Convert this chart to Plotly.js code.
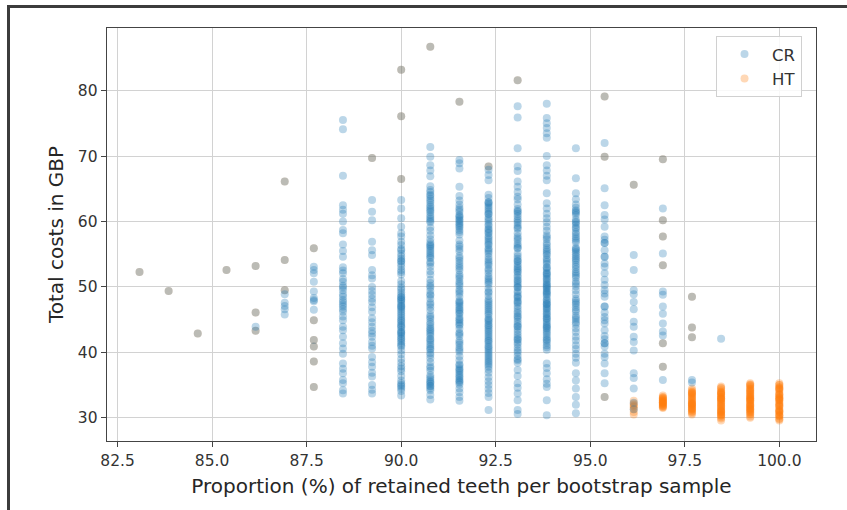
<!DOCTYPE html>
<html>
<head>
<meta charset="utf-8">
<script src="https://cdn.plot.ly/plotly-3.0.1.min.js"></script>
<style>
html, body { margin: 0; padding: 0; overflow: hidden; background: #fff; width: 847px; height: 510px; }
#frame { position: absolute; left: 7px; top: 5px; width: 900px; height: 600px; border: 3px solid #3c3c3c; }
#chart { position: absolute; left: 0; top: 0; width: 847px; height: 510px; }
</style>
</head>
<body>
<div id="frame"></div>
<div id="chart"></div>
<script>
// x positions: proportion (%) of retained teeth per bootstrap sample
const proportions = [83.08, 83.85, 84.62, 85.38, 86.15, 86.92, 87.69, 88.46, 89.23, 90.00, 90.77, 91.54,
                     92.31, 93.08, 93.85, 94.62, 95.38, 96.15, 96.92, 97.69, 98.46, 99.23, 100.00];

// CR total costs (GBP), one array per proportion column
const cr_8308 = [52.3];
const cr_8385 = [49.4];
const cr_8462 = [42.9];
const cr_8538 = [52.6];
const cr_8615 = [53.2, 46.1, 43.3, 43.9];
const cr_8692 = [66.1, 54.1, 49.5, 48.9, 47.6, 47.1, 46.6, 45.8];
const cr_8769 = [55.9, 53.1, 52.1, 50.8, 49.3, 48.3, 47.8, 46.5, 44.9, 41.9, 40.9, 38.6, 34.7, 48.0, 52.6];
const cr_8846 = [75.5, 74.1, 67.0, 62.5, 61.8, 61.2, 60.0, 58.7, 58.2, 56.5, 54.6, 53.0, 52.1, 51.2, 50.8, 49.5,
                 48.9, 48.5, 47.7, 47.3, 47.0, 46.2, 44.9, 43.9, 42.4, 41.4, 39.8, 38.3, 36.8, 35.3, 34.2, 33.7,
                 52.5, 49.9, 48.0, 46.6, 45.5, 43.4, 40.6, 37.5, 35.8, 55.5, 50.2];
const cr_8923 = [69.7, 63.3, 61.5, 60.2, 56.9, 54.9, 52.6, 51.3, 50.0, 48.8, 47.7, 46.2, 45.2, 43.9, 42.9, 42.4,
                 41.6, 40.6, 39.3, 37.8, 36.3, 35.0, 33.7, 55.6, 51.8, 49.4, 48.2, 46.9, 44.6, 43.3, 41.0, 38.5,
                 36.9, 34.3];
const cr_9000 = [83.2, 76.1, 66.5, 63.3, 62.0, 60.5, 59.2, 58.2, 57.7, 56.9, 56.4, 55.6, 55.1, 54.3, 53.9, 53.1,
                 52.6, 51.9, 50.4, 49.9, 49.2, 48.8, 48.1, 47.7, 47.1, 46.5, 45.9, 45.6, 44.8, 44.2, 43.8, 43.1,
                 42.5, 42.2, 41.4, 40.9, 40.3, 39.7, 39.0, 38.4, 37.9, 37.1, 36.4, 35.7, 35.3, 34.5, 34.1, 33.4,
                 48.5, 44.5, 42.8, 46.8, 49.6, 48.4, 47.4, 46.2, 45.3, 44.0, 43.4, 42.0, 41.1, 55.8, 54.7, 53.5,
                 52.3, 50.9, 48.0, 45.0, 43.0, 41.7, 54.0, 47.0, 37.5, 35.0, 34.8];
const cr_9077 = [86.7, 71.4, 69.9, 68.6, 67.8, 66.9, 65.4, 64.8, 64.1, 63.5, 62.9, 62.2, 61.7, 61.0, 60.4, 59.9,
                 59.1, 58.6, 57.9, 57.3, 56.8, 56.1, 55.5, 54.9, 54.4, 53.6, 53.1, 52.4, 51.9, 51.1, 50.6, 49.9,
                 49.4, 48.7, 48.2, 47.6, 46.9, 46.4, 45.7, 45.1, 44.6, 43.9, 43.4, 42.8, 42.1, 41.6, 40.9, 40.4,
                 39.6, 39.1, 38.5, 37.9, 37.2, 36.5, 35.9, 35.4, 34.8, 34.2, 33.5, 32.8, 63.2, 61.4, 56.5, 55.2,
                 43.1, 41.2, 39.9, 35.6, 34.9, 64.5, 63.9, 62.5, 61.9, 60.7, 60.1, 56.3, 55.8, 54.6, 53.8, 45.4,
                 44.3, 43.6, 42.5, 41.9, 40.6, 36.2, 35.2, 34.5, 37.6, 50.2, 48.9, 47.3];
const cr_9154 = [78.3, 69.4, 68.9, 68.1, 65.3, 63.9, 63.2, 62.6, 62.1, 61.5, 60.8, 60.3, 59.6, 59.1, 58.7, 58.0,
                 57.1, 56.2, 55.4, 54.7, 54.0, 53.2, 52.5, 51.9, 51.3, 50.8, 50.2, 49.6, 49.0, 48.5, 47.9, 47.2,
                 46.6, 46.1, 45.4, 44.9, 44.3, 43.6, 43.0, 42.5, 41.8, 41.2, 40.7, 40.1, 39.4, 38.8, 38.2, 37.6,
                 36.9, 36.3, 35.8, 35.1, 34.5, 33.9, 33.2, 32.6, 61.0, 60.1, 56.5, 55.8, 54.4, 47.5, 45.9, 44.6,
                 37.2, 36.6, 35.4, 61.8, 60.6, 59.8, 59.3, 58.4, 47.7, 46.9, 46.4, 45.1, 44.1, 38.0, 37.4, 36.1,
                 35.6, 53.6, 52.9, 51.6, 50.5, 49.3, 42.8, 41.5, 40.4];
const cr_9231 = [68.4, 67.9, 67.1, 66.3, 64.1, 63.6, 63.0, 62.4, 61.8, 61.1, 60.6, 60.0, 59.3, 58.7, 58.2, 57.5,
                 56.9, 56.4, 55.7, 55.1, 54.6, 53.9, 53.3, 52.8, 52.1, 51.6, 51.0, 50.4, 49.8, 49.3, 48.6, 48.1,
                 47.5, 46.9, 46.3, 45.7, 45.2, 44.5, 44.0, 43.4, 42.8, 42.2, 41.7, 41.0, 40.5, 39.9, 39.3, 38.7,
                 38.1, 37.4, 36.9, 36.2, 35.6, 35.0, 34.4, 33.8, 33.2, 31.2, 62.9, 61.5, 55.4, 54.2, 50.7, 49.1,
                 46.6, 45.0, 43.1, 41.4, 39.6, 37.8, 62.7, 62.1, 61.2, 60.3, 59.6, 58.9, 58.4, 57.8, 57.2, 56.6,
                 55.9, 53.6, 52.5, 51.3, 47.8, 47.2, 46.0, 44.8, 44.2, 43.7, 42.5, 41.9, 40.8, 40.2, 39.0, 38.4];
const cr_9308 = [81.6, 77.6, 75.9, 71.2, 68.4, 67.7, 66.1, 65.3, 64.5, 63.8, 63.4, 62.6, 61.9, 61.2, 60.8, 60.1,
                 59.4, 58.9, 58.2, 57.7, 57.1, 56.3, 55.9, 55.1, 54.7, 53.9, 53.5, 52.7, 52.2, 51.5, 51.1, 50.3,
                 49.9, 49.1, 48.7, 47.9, 47.5, 46.7, 46.3, 45.6, 45.1, 44.3, 43.9, 43.1, 42.7, 41.9, 41.5, 40.7,
                 40.3, 39.5, 39.0, 38.4, 37.3, 36.4, 35.3, 34.6, 33.7, 32.7, 31.2, 30.6, 61.5, 59.8, 56.6, 54.3,
                 52.9, 50.6, 48.3, 44.7, 42.3, 61.6, 60.4, 59.1, 57.4, 56.0, 54.0, 53.2, 52.4, 51.8, 50.9, 50.0,
                 49.4, 48.5, 47.7, 47.1, 46.0, 45.4, 44.0, 43.5, 42.0, 41.2, 40.0, 38.8];
const cr_9385 = [78.0, 75.8, 75.0, 74.3, 73.5, 72.8, 70.0, 68.6, 67.8, 67.0, 66.3, 64.3, 62.8, 62.0, 61.2, 60.5,
                 59.9, 59.2, 58.6, 57.9, 57.3, 56.7, 56.0, 55.4, 54.9, 54.1, 53.5, 52.9, 52.2, 51.6, 51.1, 50.3,
                 49.7, 49.2, 48.5, 47.9, 47.3, 46.6, 46.0, 45.5, 44.8, 44.2, 43.6, 43.0, 42.3, 41.8, 41.1, 40.4,
                 38.3, 37.6, 36.8, 35.9, 35.2, 34.7, 32.7, 30.4, 53.0, 51.9, 50.8, 49.0, 47.6, 46.3, 44.5, 43.3,
                 42.0, 45.1, 48.1, 57.6, 56.4, 55.7, 55.1, 54.4, 53.8, 52.6, 51.3, 50.5, 49.9, 49.4, 48.8, 47.0,
                 46.8, 45.8, 45.2, 44.0, 43.8, 42.7, 41.5, 40.8, 52.0, 50.1, 47.4];
const cr_9462 = [71.2, 66.6, 64.3, 63.4, 62.6, 61.7, 61.0, 60.3, 59.5, 58.9, 58.1, 57.4, 56.8, 56.0, 55.3, 54.7,
                 54.1, 53.4, 52.7, 52.0, 51.4, 50.8, 50.1, 49.5, 48.9, 48.2, 47.6, 46.9, 46.2, 45.6, 45.0, 44.3,
                 43.7, 43.1, 42.4, 41.8, 41.1, 40.5, 39.8, 39.2, 38.4, 36.8, 35.7, 34.5, 33.2, 32.0, 30.7, 61.3,
                 60.0, 55.6, 54.4, 52.3, 62.1, 61.5, 59.8, 59.1, 58.4, 57.7, 57.1, 55.8, 55.0, 53.8, 53.1, 51.7,
                 50.5, 47.9, 47.3, 46.5, 45.3, 44.6];
const cr_9538 = [79.1, 72.0, 69.9, 65.1, 62.5, 61.0, 60.3, 59.2, 57.7, 56.7, 54.6, 53.6, 52.1, 51.1, 49.5, 48.5,
                 47.0, 45.4, 44.4, 43.4, 41.4, 40.9, 39.8, 38.3, 36.8, 35.3, 33.2, 56.7, 54.6, 47.0, 41.4, 55.6,
                 50.3, 46.1, 42.5, 57.2, 53.1, 49.0, 44.9, 42.0, 39.3];
const cr_9615 = [65.6, 54.9, 52.6, 49.5, 48.9, 47.7, 46.6, 44.7, 43.9, 42.4, 41.6, 40.3, 36.8, 36.1, 34.5, 32.3, 31.3];
const cr_9692 = [69.5, 62.0, 60.2, 57.7, 55.1, 53.3, 49.3, 48.8, 47.0, 45.9, 44.4, 43.2, 42.6, 41.4, 37.8, 35.8];
const cr_9769 = [48.5, 43.8, 42.3, 35.8, 35.4];
const cr_9846 = [42.1];
const cr_9923 = [];
const cr_10000 = [];

// HT total costs (GBP), one array per proportion column
const ht_8308 = [52.3];
const ht_8385 = [49.4];
const ht_8462 = [42.9];
const ht_8538 = [52.6];
const ht_8615 = [53.2, 46.1, 43.3];
const ht_8692 = [66.1, 54.1, 49.5];
const ht_8769 = [55.9, 44.9, 41.9, 40.9, 38.6, 34.7];
const ht_8846 = [];
const ht_8923 = [69.7];
const ht_9000 = [83.2, 76.1, 66.5];
const ht_9077 = [86.7];
const ht_9154 = [78.3];
const ht_9231 = [68.4];
const ht_9308 = [81.6];
const ht_9385 = [];
const ht_9462 = [];
const ht_9538 = [79.1, 69.9, 33.2];
const ht_9615 = [65.6, 32.6, 32.2, 31.8, 31.3, 30.9, 30.5, 32.0, 31.6];
const ht_9692 = [69.5, 60.2, 57.7, 53.3, 41.4, 37.8, 33.4, 33.1, 32.9, 32.6, 32.4, 32.2, 31.9, 31.7, 31.5, 32.8,
                 32.3, 32.0, 33.0, 32.5, 32.1, 31.8, 32.7, 33.2, 31.6, 32.4];
const ht_9769 = [48.5, 43.8, 42.3, 34.5, 34.2, 33.9, 33.6, 33.3, 33.0, 32.7, 32.4, 32.1, 31.8, 31.5, 31.2, 30.9,
                 30.5, 33.8, 33.1, 32.5, 31.9, 31.3, 34.0, 32.2, 33.4, 32.8, 32.2, 31.6, 31.0, 33.7, 32.0, 31.4,
                 30.7];
const ht_9846 = [34.8, 34.5, 34.2, 33.9, 33.6, 33.3, 33.0, 32.7, 32.4, 32.1, 31.8, 31.5, 31.2, 30.9, 30.6, 30.3,
                 29.9, 29.6, 34.0, 33.2, 32.5, 31.7, 31.0, 30.4, 33.7, 32.9, 34.6, 33.8, 33.0, 32.2, 31.4, 30.8,
                 30.1, 32.8, 31.9, 31.1, 33.5, 30.5];
const ht_9923 = [35.3, 35.0, 34.7, 34.4, 34.1, 33.8, 33.5, 33.2, 32.9, 32.6, 32.3, 32.0, 31.7, 31.4, 31.1, 30.8,
                 30.5, 30.2, 30.0, 34.9, 34.2, 33.4, 32.7, 31.9, 31.2, 33.0, 31.5, 35.1, 34.5, 33.7, 32.8, 32.1,
                 31.3, 30.6, 34.0, 33.2, 31.8, 30.9, 32.5];
const ht_10000 = [35.3, 35.0, 34.7, 34.4, 34.1, 33.8, 33.5, 33.2, 32.9, 32.6, 32.3, 32.0, 31.7, 31.4, 31.1, 30.8,
                  30.5, 30.2, 29.9, 29.6, 34.5, 33.6, 32.8, 31.9, 31.0, 30.3, 33.1, 35.0, 34.3, 33.5, 32.7, 31.8,
                  31.2, 30.4, 29.8, 34.6, 33.0, 32.2, 30.9];

const xTicks = [82.5, 85.0, 87.5, 90.0, 92.5, 95.0, 97.5, 100.0];
const xTickText = ['82.5', '85.0', '87.5', '90.0', '92.5', '95.0', '97.5', '100.0'];
const yTicks = [30, 40, 50, 60, 70, 80];

const crColumns = [cr_8308, cr_8385, cr_8462, cr_8538, cr_8615, cr_8692, cr_8769, cr_8846, cr_8923, cr_9000,
                   cr_9077, cr_9154, cr_9231, cr_9308, cr_9385, cr_9462, cr_9538, cr_9615, cr_9692, cr_9769,
                   cr_9846, cr_9923, cr_10000];
const htColumns = [ht_8308, ht_8385, ht_8462, ht_8538, ht_8615, ht_8692, ht_8769, ht_8846, ht_8923, ht_9000,
                   ht_9077, ht_9154, ht_9231, ht_9308, ht_9385, ht_9462, ht_9538, ht_9615, ht_9692, ht_9769,
                   ht_9846, ht_9923, ht_10000];

function flatten(cols) {
  const xs = [], ys = [];
  cols.forEach((vals, i) => vals.forEach(v => { xs.push(proportions[i]); ys.push(v); }));
  return {xs, ys};
}
const cr = flatten(crColumns);
const ht = flatten(htColumns);

const FONT = 'DejaVu Sans, Verdana, sans-serif';

const traces = [
  {type: 'scatter', mode: 'markers', name: 'HT', x: ht.xs, y: ht.ys, legendrank: 2,
   marker: {color: '#ff7f0e', size: 8, opacity: 0.3, line: {width: 0}}},
  {type: 'scatter', mode: 'markers', name: 'CR', x: cr.xs, y: cr.ys, legendrank: 1,
   marker: {color: '#1f77b4', size: 8, opacity: 0.3, line: {width: 0}}}
];

const axisCommon = {
  showgrid: true, gridcolor: '#d2d2d2', gridwidth: 1,
  zeroline: false, showline: true, mirror: true, linecolor: '#444', linewidth: 1.3,
  ticks: 'outside', ticklen: 5, tickwidth: 1, tickcolor: '#444',
  tickfont: {family: FONT, size: 15.5, color: '#333'}
};

const layout = {
  width: 847, height: 510,
  margin: {l: 107, r: 31, t: 28, b: 69, pad: 0},
  paper_bgcolor: 'rgba(0,0,0,0)', plot_bgcolor: '#fff',
  showlegend: true,
  legend: {x: 0.859, y: 0.981, xanchor: 'left', yanchor: 'top', itemwidth: 45,
           bgcolor: 'rgba(255,255,255,0.85)', bordercolor: '#d0d0d0', borderwidth: 1,
           font: {family: FONT, size: 16.5, color: '#333'}, traceorder: 'normal'},
  xaxis: Object.assign({}, axisCommon, {
    range: [82.22, 100.97], tickvals: xTicks, ticktext: xTickText,
    title: {text: 'Proportion (%) of retained teeth per bootstrap sample', standoff: 10,
            font: {family: FONT, size: 20, color: '#262626'}}
  }),
  yaxis: Object.assign({}, axisCommon, {
    range: [26.46, 89.57], tickvals: yTicks,
    title: {text: 'Total costs in GBP', standoff: 9,
            font: {family: FONT, size: 20, color: '#262626'}}
  })
};

Plotly.newPlot('chart', traces, layout, {staticPlot: true, displayModeBar: false});
</script>
</body>
</html>
